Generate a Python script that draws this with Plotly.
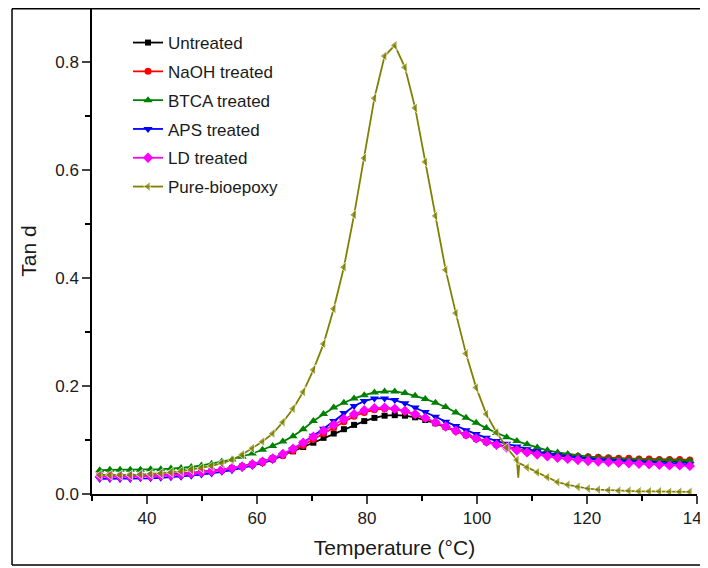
import plotly.graph_objects as go

temps = [31.4, 33.25, 35.1, 36.95, 38.8, 40.65, 42.5, 44.35, 46.2, 48.05,
         49.9, 51.75, 53.6, 55.45, 57.3, 59.15, 61.0, 62.85, 64.7, 66.55,
         68.4, 70.25, 72.1, 73.95, 75.8, 77.65, 79.5, 81.35, 83.2, 85.05,
         86.9, 88.75, 90.6, 92.45, 94.3, 96.15, 98.0, 99.85, 101.7, 103.55,
         105.4, 107.25, 109.1, 110.95, 112.8, 114.65, 116.5, 118.35, 120.2, 122.05,
         123.9, 125.75, 127.6, 129.45, 131.3, 133.15, 135.0, 136.85, 138.7]

untreated = [0.033, 0.033, 0.033, 0.033, 0.034, 0.034, 0.035, 0.036, 0.037, 0.039,
             0.041, 0.043, 0.045, 0.048, 0.051, 0.055, 0.060, 0.066, 0.072, 0.079,
             0.087, 0.095, 0.104, 0.112, 0.120, 0.128, 0.135, 0.141, 0.145, 0.146,
             0.145, 0.142, 0.137, 0.131, 0.124, 0.117, 0.110, 0.103, 0.097, 0.092,
             0.087, 0.083, 0.079, 0.076, 0.073, 0.071, 0.069, 0.067, 0.066, 0.065,
             0.064, 0.063, 0.062, 0.061, 0.061, 0.060, 0.060, 0.059, 0.059]

naoh = [0.035, 0.035, 0.034, 0.034, 0.034, 0.034, 0.035, 0.035, 0.036, 0.038,
        0.040, 0.042, 0.044, 0.047, 0.050, 0.054, 0.058, 0.064, 0.071, 0.080,
        0.090, 0.101, 0.112, 0.123, 0.134, 0.144, 0.151, 0.156, 0.158, 0.157,
        0.153, 0.147, 0.140, 0.132, 0.124, 0.116, 0.109, 0.102, 0.096, 0.091,
        0.087, 0.083, 0.080, 0.077, 0.075, 0.073, 0.071, 0.070, 0.069, 0.068,
        0.067, 0.066, 0.066, 0.065, 0.065, 0.064, 0.064, 0.064, 0.063]

btca = [0.044, 0.045, 0.045, 0.045, 0.045, 0.046, 0.046, 0.047, 0.048, 0.050,
        0.053, 0.056, 0.060, 0.064, 0.069, 0.075, 0.082, 0.089, 0.097, 0.107,
        0.120, 0.135, 0.148, 0.160, 0.169, 0.177, 0.183, 0.188, 0.190, 0.190,
        0.187, 0.182, 0.176, 0.169, 0.161, 0.151, 0.141, 0.132, 0.122, 0.113,
        0.105, 0.098, 0.092, 0.086, 0.081, 0.077, 0.074, 0.071, 0.069, 0.067,
        0.066, 0.065, 0.064, 0.064, 0.063, 0.063, 0.063, 0.062, 0.062]

aps = [0.028, 0.028, 0.028, 0.028, 0.029, 0.029, 0.030, 0.031, 0.032, 0.034,
       0.036, 0.038, 0.041, 0.044, 0.048, 0.052, 0.057, 0.063, 0.072, 0.083,
       0.095, 0.108, 0.121, 0.135, 0.150, 0.163, 0.172, 0.177, 0.177, 0.174,
       0.168, 0.160, 0.152, 0.143, 0.134, 0.126, 0.118, 0.111, 0.104, 0.098,
       0.093, 0.088, 0.083, 0.079, 0.075, 0.072, 0.069, 0.067, 0.065, 0.063,
       0.062, 0.061, 0.060, 0.059, 0.058, 0.057, 0.056, 0.056, 0.055]

ld = [0.032, 0.032, 0.032, 0.032, 0.033, 0.033, 0.034, 0.035, 0.036, 0.038,
      0.040, 0.042, 0.045, 0.048, 0.051, 0.055, 0.060, 0.066, 0.074, 0.084,
      0.095, 0.106, 0.117, 0.128, 0.139, 0.148, 0.155, 0.159, 0.160, 0.158,
      0.154, 0.148, 0.141, 0.133, 0.125, 0.117, 0.110, 0.103, 0.097, 0.091,
      0.086, 0.081, 0.077, 0.073, 0.070, 0.067, 0.065, 0.063, 0.061, 0.060,
      0.059, 0.058, 0.057, 0.056, 0.055, 0.054, 0.053, 0.053, 0.052]

bioepoxy = [0.035, 0.035, 0.035, 0.035, 0.036, 0.037, 0.038, 0.040, 0.042, 0.045,
            0.048, 0.052, 0.057, 0.063, 0.073, 0.085, 0.097, 0.112, 0.133, 0.158,
            0.189, 0.230, 0.278, 0.343, 0.420, 0.517, 0.622, 0.733, 0.811, 0.831,
            0.790, 0.715, 0.615, 0.515, 0.415, 0.335, 0.260, 0.197, 0.148, 0.114,
            0.086, 0.063, 0.049, 0.040, 0.031, 0.022, 0.017, 0.013, 0.010, 0.008,
            0.007, 0.006, 0.006, 0.005, 0.005, 0.005, 0.004, 0.004, 0.004]

# narrow downward spike in the Pure-bioepoxy curve
spike_temps = [107.5, 107.7]
spike_vals = [0.030, 0.057]

names = ["Untreated", "NaOH treated", "BTCA treated", "APS treated",
         "LD treated", "Pure-bioepoxy"]

x_ticks = [40, 60, 80, 100, 120, 140]
y_ticks = [0.0, 0.2, 0.4, 0.6, 0.8]
y_tick_labels = ["0.0", "0.2", "0.4", "0.6", "0.8"]

colors = ["#000000", "#FF0000", "#008000", "#0000FF", "#FF00FF", "#808000"]
symbols = ["square", "circle", "triangle-up", "triangle-down", "diamond", "triangle-left"]
sizes = [6, 7, 8, 8, 8, 9]

fig = go.Figure()

series = [untreated, naoh, btca, aps, ld]
for i, vals in enumerate(series):
    fig.add_trace(go.Scatter(
        x=temps, y=vals, mode="lines+markers", name=names[i],
        legendgroup=names[i],
        line=dict(color=colors[i], width=1.8),
        marker=dict(symbol=symbols[i], size=sizes[i], color=colors[i]),
    ))

# pure bioepoxy with spike points merged in
pts = sorted([(t, v, sizes[5]) for t, v in zip(temps, bioepoxy)] +
             [(t, v, 0) for t, v in zip(spike_temps, spike_vals)])
fig.add_trace(go.Scatter(
    x=[p[0] for p in pts], y=[p[1] for p in pts], mode="lines+markers",
    name=names[5], legendgroup=names[5],
    line=dict(color=colors[5], width=1.8),
    marker=dict(symbol=symbols[5], size=[p[2] for p in pts], color=colors[5]),
))

font_family = "Liberation Sans, Arial, sans-serif"
border = dict(color="black", width=1.5)
bx0, bx1, by0, by1 = -0.1322, 1.0149, -0.1461, 0.9985

# the page body adds an 8px offset, so the figure is 700x560
fig.update_layout(
    width=700, height=560,
    margin=dict(l=84, r=11, t=0, b=74, autoexpand=False),
    paper_bgcolor="white", plot_bgcolor="white",
    font=dict(family=font_family, color="#1a1a1a"),
    showlegend=True,
    legend=dict(
        x=0.0595, y=0.965, xanchor="left", yanchor="top",
        font=dict(size=17, family=font_family, color="#1a1a1a"),
        bgcolor="rgba(0,0,0,0)", traceorder="grouped", tracegroupgap=3.7,
    ),
    xaxis=dict(
        range=[30, 140], tickvals=x_ticks, ticks="outside", ticklen=8,
        tickwidth=1.5, showline=True, linecolor="black", linewidth=1.5,
        showgrid=False, zeroline=False, mirror=False, automargin=False,
        ticklabeloverflow="allow",
        tickfont=dict(size=17),
        minor=dict(dtick=10, tick0=30, ticks="outside", ticklen=5, tickwidth=1.5,
                   tickcolor="black", showgrid=False),
        title=dict(text="Temperature (°C)", font=dict(size=21), standoff=13),
    ),
    yaxis=dict(
        range=[0, 0.9], tickvals=y_ticks, ticktext=y_tick_labels,
        ticks="outside", ticklen=8, tickwidth=1.5,
        showline=True, linecolor="black", linewidth=1.5,
        showgrid=False, zeroline=False, mirror=False, automargin=False,
        ticklabeloverflow="allow",
        tickfont=dict(size=17),
        minor=dict(dtick=0.1, tick0=0, ticks="outside", ticklen=5, tickwidth=1.5,
                   tickcolor="black", showgrid=False),
        title=dict(text="Tan d", font=dict(size=21), standoff=13),
    ),
    shapes=[
        dict(type="line", xref="paper", yref="paper", x0=bx0, x1=bx1,
             y0=by1, y1=by1, line=border),
        dict(type="line", xref="paper", yref="paper", x0=bx0, x1=bx1,
             y0=by0, y1=by0, line=border),
        dict(type="line", xref="paper", yref="paper", x0=bx0, x1=bx0,
             y0=by0, y1=by1, line=border),
        dict(type="line", xref="paper", yref="paper", x0=bx1, x1=bx1,
             y0=by0, y1=by1, line=border),
    ],
)

fig.write_html("out.html")
